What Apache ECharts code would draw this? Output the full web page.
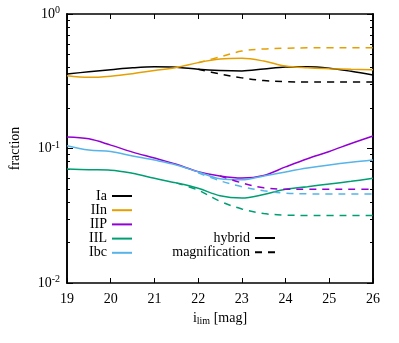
<!DOCTYPE html>
<html><head><meta charset="utf-8">
<script src="https://cdn.jsdelivr.net/npm/echarts@6/dist/echarts.min.js"></script>
<style>html,body{margin:0;padding:0;background:#fff}#c{width:399px;height:343px}</style>
</head><body><div id="c"></div>
<script>
const mags = [19,19.5,20,20.5,21,21.5,22,22.5,23,23.5,24,24.5,25,25.5,26];
const iaHybrid  = [0.358,0.372,0.385,0.398,0.405,0.402,0.388,0.380,0.377,0.390,0.403,0.405,0.395,0.375,0.352];
const iaMag     = [null,null,null,null,null,null,0.388,0.358,0.335,0.320,0.314,0.312,0.312,0.312,0.312];
const iinHybrid = [0.348,0.338,0.345,0.360,0.380,0.400,0.435,0.462,0.468,0.447,0.410,0.398,0.392,0.388,0.385];
const iinMag    = [null,null,null,null,null,null,0.435,0.480,0.530,0.550,0.557,0.560,0.560,0.560,0.560];
const iipHybrid = [0.122,0.118,0.106,0.094,0.085,0.0763,0.0673,0.0625,0.0603,0.063,0.073,0.084,0.095,0.109,0.124];
const iipMag    = [null,null,null,null,null,null,null,0.0625,0.0555,0.051,0.0498,0.0497,0.0497,0.0497,0.0497];
const iilHybrid = [0.0704,0.0695,0.069,0.0654,0.060,0.0555,0.0506,0.0445,0.0428,0.0455,0.0497,0.052,0.0545,0.057,0.060];
const iilMag    = [null,null,null,null,null,0.0555,0.049,0.0405,0.0355,0.0328,0.032,0.0318,0.0318,0.0318,0.0318];
const ibcHybrid = [0.105,0.0975,0.095,0.088,0.082,0.0755,0.067,0.0595,0.0585,0.0625,0.067,0.0715,0.0755,0.079,0.082];
const ibcMag    = [null,null,null,null,null,null,0.066,0.0575,0.052,0.0485,0.0465,0.046,0.0459,0.0459,0.0459];
const typeNames = ['Ia','IIn','IIP','IIL','Ibc'];
const styleNames = ['hybrid','magnification'];
const minorTicks = [0.02,0.03,0.04,0.05,0.06,0.07,0.08,0.09,0.2,0.3,0.4,0.5,0.6,0.7,0.8,0.9];

const colors = {Ia:'#000000', IIn:'#E69F00', IIP:'#9400D3', IIL:'#009E73', Ibc:'#56B4E9'};
const FONT = 'Liberation Serif';
const FS = 14;
function pts(arr){ const o=[]; arr.forEach((v,i)=>{ if(v!==null) o.push([mags[i],v]); }); return o; }
function mk(name, arr, color, dashed){
  return {type:'line', name, data:pts(arr), symbol:'none', smooth:0.35, xAxisIndex:0, yAxisIndex:0,
    lineStyle:{color, width:1.5, type: dashed?[7,6]:'solid'}, itemStyle:{color}, z:2};
}
const hyb = {Ia:iaHybrid, IIn:iinHybrid, IIP:iipHybrid, IIL:iilHybrid, Ibc:ibcHybrid};
const mag = {Ia:iaMag, IIn:iinMag, IIP:iipMag, IIL:iilMag, Ibc:ibcMag};
const series = [];
typeNames.forEach(t=>{ series.push(mk(t, hyb[t], colors[t], false)); });
typeNames.forEach(t=>{ series.push(mk(t+' mag', mag[t], colors[t], true)); });
series.push({type:'line', name:styleNames[0], data:[], symbol:'none', lineStyle:{color:'#000',width:1.5}, itemStyle:{color:'#000'}});
series.push({type:'line', name:styleNames[1], data:[], symbol:'none', lineStyle:{color:'#000',width:1.5,type:[7,6]}, itemStyle:{color:'#000'}});

const axLine = {show:true, lineStyle:{color:'#000', width:1.6}};
const grid = {left:61, right:26, top:14, bottom:60};
function yAx(pos, minor, labels){
  return {type:'log', logBase:10, min:0.01, max:1, position:pos,
    axisLine:axLine, splitLine:{show:false},
    axisTick: minor ? {show:true, inside:true, length:3, lineStyle:{color:'#000',width:1}, customValues:minorTicks}
                    : {show:true, inside:true, length:6, lineStyle:{color:'#000',width:1}},
    axisLabel: labels ? {show:true, margin:7, formatter:v=>'{b|10}{s|'+Math.round(Math.log10(v))+'}',
       rich:{b:{fontFamily:FONT,fontSize:FS,color:'#000'}, s:{fontFamily:FONT,fontSize:10,color:'#000',verticalAlign:'top',padding:[0,0,7,0]}}} : {show:false},
    name: labels ? 'fraction' : '', nameLocation:'middle', nameGap:45, nameRotate:90,
    nameTextStyle:{fontFamily:FONT,fontSize:FS,color:'#000'}
  };
}
const legendCommon = {orient:'vertical', align:'right', itemWidth:20, itemHeight:14, itemGap:0.2, padding:0,
  textStyle:{fontFamily:FONT, fontSize:FS, color:'#000'}, selectedMode:false,
  itemStyle:{opacity:0, borderWidth:0}};
const option = {
  animation:false,
  backgroundColor:'#fff',
  grid,
  xAxis:[
    {type:'value', min:19, max:26, interval:1, position:'bottom', axisLine:axLine, splitLine:{show:false},
     axisTick:{inside:true, length:5, lineStyle:{color:'#000',width:1}},
     axisLabel:{fontFamily:FONT, fontSize:FS, color:'#000', margin:9},
     name:'{b|i}{sub|lim}{b| [mag]}', nameLocation:'middle', nameGap:27,
     nameTextStyle:{rich:{b:{fontFamily:FONT,fontSize:FS,color:'#000'}, sub:{fontFamily:FONT,fontSize:10,color:'#000',verticalAlign:'bottom',padding:[6,0,0,0]}}}},
    {type:'value', min:19, max:26, interval:1, position:'top', axisLine:axLine, splitLine:{show:false},
     axisTick:{inside:true, length:5, lineStyle:{color:'#000',width:1}}, axisLabel:{show:false}}
  ],
  yAxis:[ yAx('left', false, true), yAx('left', true, false), yAx('right', false, false), yAx('right', true, false) ],
  legend:[
    Object.assign({data:typeNames, right:266, top:189}, legendCommon),
    Object.assign({data:styleNames, right:123, top:231}, legendCommon)
  ],
  series
};
const chart = echarts.init(document.getElementById('c'), null, {renderer:'canvas'});
chart.setOption(option);
</script>
</body></html>
